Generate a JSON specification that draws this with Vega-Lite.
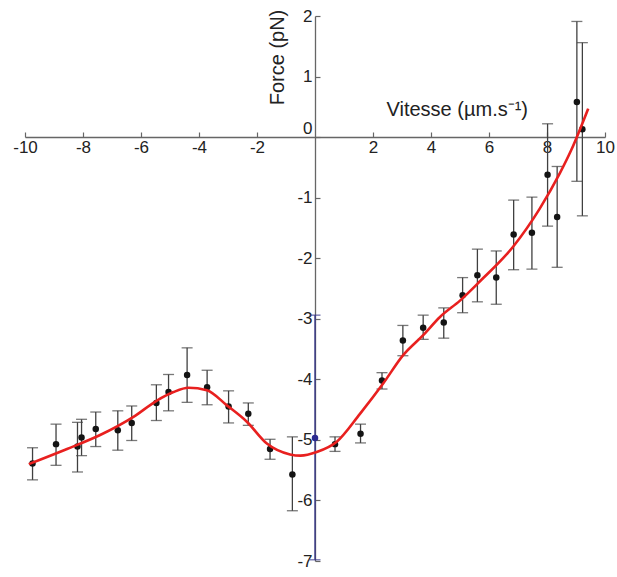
{
  "$schema": "https://vega.github.io/schema/vega-lite/v6.json",
  "width": 580,
  "height": 545,
  "autosize": {"type": "none"},
  "padding": {"left": 25, "top": 16, "right": 12, "bottom": 16},
  "background": "white",
  "config": {"view": {"stroke": null}, "font": "Liberation Sans"},
  "datasets": {
    "pts": [
      {"u": -9.74, "f": -5.39, "lo": -5.66, "hi": -5.13, "g": "k"},
      {"u": -8.93, "f": -5.07, "lo": -5.42, "hi": -4.74, "g": "k"},
      {"u": -8.19, "f": -5.11, "lo": -5.53, "hi": -4.71, "g": "k"},
      {"u": -8.05, "f": -4.96, "lo": -5.26, "hi": -4.66, "g": "k"},
      {"u": -7.56, "f": -4.82, "lo": -5.11, "hi": -4.54, "g": "k"},
      {"u": -6.80, "f": -4.84, "lo": -5.17, "hi": -4.52, "g": "k"},
      {"u": -6.32, "f": -4.72, "lo": -5.01, "hi": -4.44, "g": "k"},
      {"u": -5.47, "f": -4.39, "lo": -4.68, "hi": -4.09, "g": "k"},
      {"u": -5.05, "f": -4.21, "lo": -4.52, "hi": -3.92, "g": "k"},
      {"u": -4.41, "f": -3.93, "lo": -4.38, "hi": -3.48, "g": "k"},
      {"u": -3.72, "f": -4.13, "lo": -4.42, "hi": -3.85, "g": "k"},
      {"u": -2.98, "f": -4.45, "lo": -4.72, "hi": -4.19, "g": "k"},
      {"u": -2.30, "f": -4.57, "lo": -4.76, "hi": -4.39, "g": "k"},
      {"u": -1.55, "f": -5.15, "lo": -5.32, "hi": -4.99, "g": "k"},
      {"u": -0.78, "f": -5.57, "lo": -6.17, "hi": -4.95, "g": "k"},
      {"u": 0.0, "f": -4.97, "lo": -6.98, "hi": -2.94, "g": "b"},
      {"u": 0.69, "f": -5.07, "lo": -5.19, "hi": -4.95, "g": "k"},
      {"u": 1.57, "f": -4.90, "lo": -5.05, "hi": -4.74, "g": "k"},
      {"u": 2.31, "f": -4.02, "lo": -4.16, "hi": -3.89, "g": "k"},
      {"u": 3.03, "f": -3.36, "lo": -3.61, "hi": -3.11, "g": "k"},
      {"u": 3.73, "f": -3.15, "lo": -3.34, "hi": -2.94, "g": "k"},
      {"u": 4.44, "f": -3.06, "lo": -3.32, "hi": -2.82, "g": "k"},
      {"u": 5.09, "f": -2.61, "lo": -2.90, "hi": -2.32, "g": "k"},
      {"u": 5.60, "f": -2.28, "lo": -2.72, "hi": -1.85, "g": "k"},
      {"u": 6.25, "f": -2.32, "lo": -2.76, "hi": -1.88, "g": "k"},
      {"u": 6.85, "f": -1.61, "lo": -2.19, "hi": -1.04, "g": "k"},
      {"u": 7.48, "f": -1.58, "lo": -2.18, "hi": -0.99, "g": "k"},
      {"u": 8.02, "f": -0.62, "lo": -1.47, "hi": 0.22, "g": "k"},
      {"u": 8.35, "f": -1.32, "lo": -2.15, "hi": -0.485, "g": "k"},
      {"u": 9.03, "f": 0.58, "lo": -0.73, "hi": 1.91, "g": "k"},
      {"u": 9.22, "f": 0.13, "lo": -1.30, "hi": 1.56, "g": "k"}
    ],
    "fit": [
      {"u": -9.87, "f": -5.40},
      {"u": -8.55, "f": -5.15},
      {"u": -7.41, "f": -4.92},
      {"u": -6.26, "f": -4.62},
      {"u": -5.45, "f": -4.35},
      {"u": -4.88, "f": -4.21},
      {"u": -4.36, "f": -4.14},
      {"u": -3.73, "f": -4.18},
      {"u": -3.04, "f": -4.43},
      {"u": -2.35, "f": -4.70},
      {"u": -1.66, "f": -5.06},
      {"u": -0.86, "f": -5.24},
      {"u": -0.50, "f": -5.26},
      {"u": 0.06, "f": -5.20},
      {"u": 0.75, "f": -5.03},
      {"u": 1.55, "f": -4.57},
      {"u": 2.35, "f": -4.07},
      {"u": 3.04, "f": -3.60},
      {"u": 3.73, "f": -3.27},
      {"u": 4.31, "f": -2.97},
      {"u": 5.00, "f": -2.70},
      {"u": 5.69, "f": -2.38},
      {"u": 6.83, "f": -1.81},
      {"u": 7.75, "f": -1.18},
      {"u": 8.44, "f": -0.60},
      {"u": 8.84, "f": -0.21},
      {"u": 9.42, "f": 0.47}
    ]
  },
  "encoding": {
    "x": {
      "field": "u",
      "type": "quantitative",
      "scale": {"domain": [-10, 10], "nice": false, "zero": false},
      "axis": {
        "orient": "bottom",
        "offset": -424,
        "values": [-10, -8, -6, -4, -2, 2, 4, 6, 8, 10],
        "grid": false,
        "tickSize": -5,
        "tickWidth": 1.2,
        "tickColor": "#666666",
        "domainColor": "#666666",
        "domainWidth": 1.3,
        "labelFlush": false,
        "labelOverlap": false,
        "labelPadding": 7,
        "labelFontSize": 17,
        "labelColor": "#222222",
        "labelExpr": "toString(datum.value)",
        "title": "Vitesse (µm.s⁻¹)",
        "titleFontSize": 20,
        "titleFontWeight": "normal",
        "titleColor": "#222222",
        "titleX": 361,
        "titleY": -22,
        "titleAlign": "left",
        "titleBaseline": "alphabetic",
        "titleAngle": 0
      }
    }
  },
  "layer": [
    {
      "data": {"name": "pts"},
      "mark": {"type": "rule", "strokeWidth": 1.3},
      "encoding": {
        "y": {
          "field": "lo",
          "type": "quantitative",
          "scale": {"domain": [-7, 2], "nice": false, "zero": false},
          "axis": {
            "orient": "left",
            "offset": -290,
            "values": [2, 1, 0, -1, -2, -3, -4, -5, -6, -7],
            "grid": false,
            "tickSize": -5,
            "tickWidth": 1.2,
            "tickColor": "#666666",
            "domainColor": "#666666",
            "domainWidth": 1.3,
            "labelOverlap": false,
            "labelPadding": 8,
            "labelFontSize": 17,
            "labelColor": "#222222",
            "labelExpr": "toString(datum.value)",
            "labelOffset": {"condition": {"test": "datum.value === 0", "value": -9}, "value": 0},
            "title": "Force (pN)",
            "titleFontSize": 20,
            "titleFontWeight": "normal",
            "titleColor": "#222222",
            "titleAngle": -90,
            "titleX": -32,
            "titleY": 41,
            "titleAlign": "center",
            "titleBaseline": "alphabetic"
          }
        },
        "y2": {"field": "hi"},
        "color": {"field": "g", "type": "nominal", "scale": {"domain": ["k", "b"], "range": ["#404040", "#303088"]}, "legend": null}
      }
    },
    {
      "data": {"name": "pts"},
      "mark": {"type": "tick", "orient": "horizontal", "size": 11, "thickness": 1.3},
      "encoding": {
        "y": {"field": "lo", "type": "quantitative", "title": "Force (pN)"},
        "color": {"field": "g", "type": "nominal", "scale": {"domain": ["k", "b"], "range": ["#404040", "#303088"]}, "legend": null}
      }
    },
    {
      "data": {"name": "pts"},
      "mark": {"type": "tick", "orient": "horizontal", "size": 11, "thickness": 1.3},
      "encoding": {
        "y": {"field": "hi", "type": "quantitative", "title": "Force (pN)"},
        "color": {"field": "g", "type": "nominal", "scale": {"domain": ["k", "b"], "range": ["#404040", "#303088"]}, "legend": null}
      }
    },
    {
      "data": {"name": "pts"},
      "mark": {"type": "point", "filled": true, "size": 42, "opacity": 1},
      "encoding": {
        "y": {"field": "f", "type": "quantitative", "title": "Force (pN)"},
        "fill": {"field": "g", "type": "nominal", "scale": {"domain": ["k", "b"], "range": ["#141414", "#2a2a90"]}, "legend": null}
      }
    },
    {
      "data": {"name": "fit"},
      "mark": {"type": "line", "color": "#e8201f", "strokeWidth": 2.6, "interpolate": "monotone"},
      "encoding": {
        "y": {"field": "f", "type": "quantitative", "title": "Force (pN)"}
      }
    }
  ]
}
